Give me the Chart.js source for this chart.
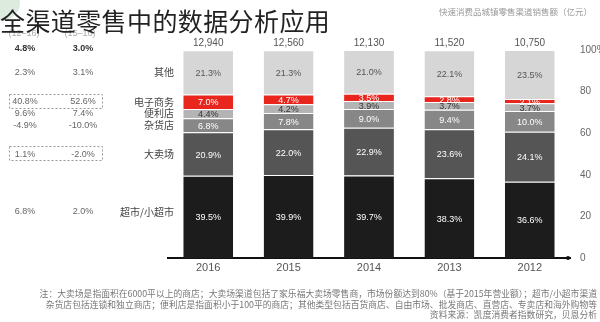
<!DOCTYPE html>
<html>
<head>
<meta charset="utf-8">
<script src="https://cdn.jsdelivr.net/npm/chart.js@4/dist/chart.umd.min.js"></script>
<style>
  html, body { margin: 0; padding: 0; background: #fff; }
  #wrap { position: relative; width: 600px; height: 322px; overflow: hidden; font-family: "Noto Sans CJK SC", "Noto Sans", sans-serif; }
  #chart { position: absolute; left: 0; top: 0; }
  #logo { position: absolute; left: -14px; top: -14px; width: 34px; height: 34px; border-radius: 50%; background: #cfe3d2; opacity: .7; }
  #title { position: absolute; left: 0; top: 2px; font-size: 25px; color: #222; letter-spacing: 0.4px; white-space: nowrap; }
  #caption { position: absolute; right: 8px; top: 5px; font-size: 8.5px; color: #9a9a9a; white-space: nowrap; }
  #note { position: absolute; right: 3px; top: 289px; font-size: 8.8px; line-height: 10.5px; color: #777; text-align: right; white-space: nowrap; }
</style>
</head>
<body>
<div id="wrap">
  <canvas id="chart" width="600" height="322"></canvas>
  <div id="logo"></div>
  <div id="title">全渠道零售中的数据分析应用</div>
  <div id="caption">快速消费品城镇零售渠道销售额（亿元）</div>
  <div id="note">
    注：大卖场是指面积在6000平以上的商店；大卖场渠道包括了家乐福大卖场零售商，市场份额达到80%（基于2015年营业额）；超市/小超市渠道<br>
    杂货店包括连锁和独立商店；便利店是指面积小于100平的商店；其他类型包括百货商店、自由市场、批发商店、直营店、专卖店和海外购物等<br>
    资料来源：凯度消费者指数研究，贝恩分析
  </div>
</div>
<script>
// ─── Data ──────────────────────────────────────────────────────────────────────
const years = ["2016", "2015", "2014", "2013", "2012"];
const totals = ["12,940", "12,560", "12,130", "11,520", "10,750"];

const supermarket = [39.5, 39.9, 39.7, 38.3, 36.6];   // 超市/小超市
const hypermarket = [20.9, 22.0, 22.9, 23.6, 24.1];   // 大卖场
const grocery     = [6.8, 7.8, 9.0, 9.4, 10.0];       // 杂货店
const convenience = [4.4, 4.2, 3.9, 3.7, 3.7];        // 便利店
const ecommerce   = [7.0, 4.7, 3.5, 2.8, 2.1];        // 电子商务
const others      = [21.3, 21.3, 21.0, 22.1, 23.5];   // 其他

const channelNames = ["超市/小超市", "大卖场", "杂货店", "便利店", "电子商务", "其他"];

// growth table, rows: total, 其他, 电子商务, 便利店, 杂货店, 大卖场, 超市/小超市
const cagr1216 = ["4.8%", "2.3%", "40.8%", "9.6%", "-4.9%", "1.1%", "6.8%"];
const growth1516 = ["3.0%", "3.1%", "52.6%", "7.4%", "-10.0%", "-2.0%", "2.0%"];

const yTicks = [0, 20, 40, 60, 80, 100];

// ─── Styles ────────────────────────────────────────────────────────────────────
const colors = ["#1c1c1c", "#555555", "#878787", "#b4b4b4", "#e8261e", "#d6d6d6"];
const labelColors = ["#fff", "#fff", "#fff", "#333", "#fff", "#555"];
const NUM_FONT = '"Liberation Sans", Arial, sans-serif';
const CJK_FONT = '"Noto Sans CJK SC", sans-serif';

const seriesList = [supermarket, hypermarket, grocery, convenience, ecommerce, others];

// ─── Extra text: segment labels, totals, side labels, growth table ────────────
const annotations = {
  id: "annotations",
  afterDatasetsDraw(chart) {
    const ctx = chart.ctx;
    const area = chart.chartArea;
    ctx.save();

    // segment values
    ctx.textAlign = "center";
    ctx.textBaseline = "middle";
    ctx.font = "9px " + NUM_FONT;
    chart.data.datasets.forEach((ds, i) => {
      chart.getDatasetMeta(i).data.forEach((bar, j) => {
        ctx.fillStyle = labelColors[i];
        ctx.fillText(ds.data[j].toFixed(1) + "%", bar.x, (bar.y + bar.base) / 2 + 1);
      });
    });

    // totals above bars
    ctx.fillStyle = "#555";
    ctx.font = "10px " + NUM_FONT;
    const topMeta = chart.getDatasetMeta(seriesList.length - 1);
    topMeta.data.forEach((bar, j) => {
      ctx.fillText(totals[j], bar.x, area.top - 7);
    });

    // dot at the end of the baseline
    ctx.fillStyle = "#111";
    ctx.beginPath();
    ctx.arc(area.right - 2, area.bottom, 2, 0, Math.PI * 2);
    ctx.fill();

    // row positions from the first year's segments
    const rowY = [area.top - 1];
    for (let i = seriesList.length - 1; i >= 0; i--) {
      const bar = chart.getDatasetMeta(i).data[0];
      rowY.push((bar.y + bar.base) / 2);
    }
    rowY[rowY.length - 1] -= 5;

    // channel names
    ctx.textAlign = "right";
    ctx.fillStyle = "#444";
    ctx.font = "10px " + CJK_FONT;
    for (let r = 1; r < rowY.length; r++) {
      ctx.fillText(channelNames[seriesList.length - r], 174, rowY[r]);
    }

    // growth table
    ctx.textAlign = "center";
    ctx.font = "9px " + NUM_FONT;
    ctx.fillStyle = "#aaa";
    ctx.fillText("(12–16)", 24, 34);
    ctx.fillText("(15–16)", 80, 34);
    rowY.forEach((y, r) => {
      ctx.font = (r === 0 ? "bold 9px " : "9px ") + NUM_FONT;
      ctx.fillStyle = r === 0 ? "#333" : "#666";
      ctx.fillText(cagr1216[r], 25, y);
      ctx.fillText(growth1516[r], 83, y);
    });

    // dashed boxes around e-commerce and hypermarket rows
    ctx.strokeStyle = "#999";
    ctx.lineWidth = 1;
    ctx.setLineDash([2, 2]);
    [2, 5].forEach(r => {
      ctx.strokeRect(9.5, Math.round(rowY[r]) - 7.5, 93, 14);
    });
    ctx.restore();
  }
};

// ─── Chart ─────────────────────────────────────────────────────────────────────
new Chart(document.getElementById("chart"), {
  type: "bar",
  data: {
    labels: years,
    datasets: seriesList.map((values, i) => ({
      label: channelNames[i],
      data: values,
      backgroundColor: colors[i],
      borderColor: "#fff",
      borderWidth: { top: 1, bottom: 0, left: 0, right: 0 },
      borderSkipped: false,
      categoryPercentage: 1,
      barPercentage: 0.62
    }))
  },
  options: {
    responsive: false,
    animation: false,
    layout: { padding: { left: 168, right: 0, top: 50, bottom: 44 } },
    plugins: { legend: { display: false }, tooltip: { enabled: false } },
    scales: {
      x: {
        stacked: true,
        grid: { display: false, drawTicks: false },
        border: { display: true, color: "#111", width: 2 },
        ticks: { color: "#555", font: { size: 11, family: NUM_FONT }, padding: 3 },
        afterFit: s => { s.height = 20; }
      },
      y: {
        stacked: true,
        position: "right",
        min: yTicks[0],
        max: yTicks[yTicks.length - 1],
        grid: { display: false },
        border: { display: false },
        afterBuildTicks: s => { s.ticks = yTicks.map(v => ({ value: v })); },
        ticks: {
          color: "#666",
          font: { size: 10, family: NUM_FONT },
          padding: 2,
          callback: v => v === 100 ? "100%" : v
        },
        afterFit: s => { s.width = 30; }
      }
    }
  },
  plugins: [annotations]
});
</script>
</body>
</html>
